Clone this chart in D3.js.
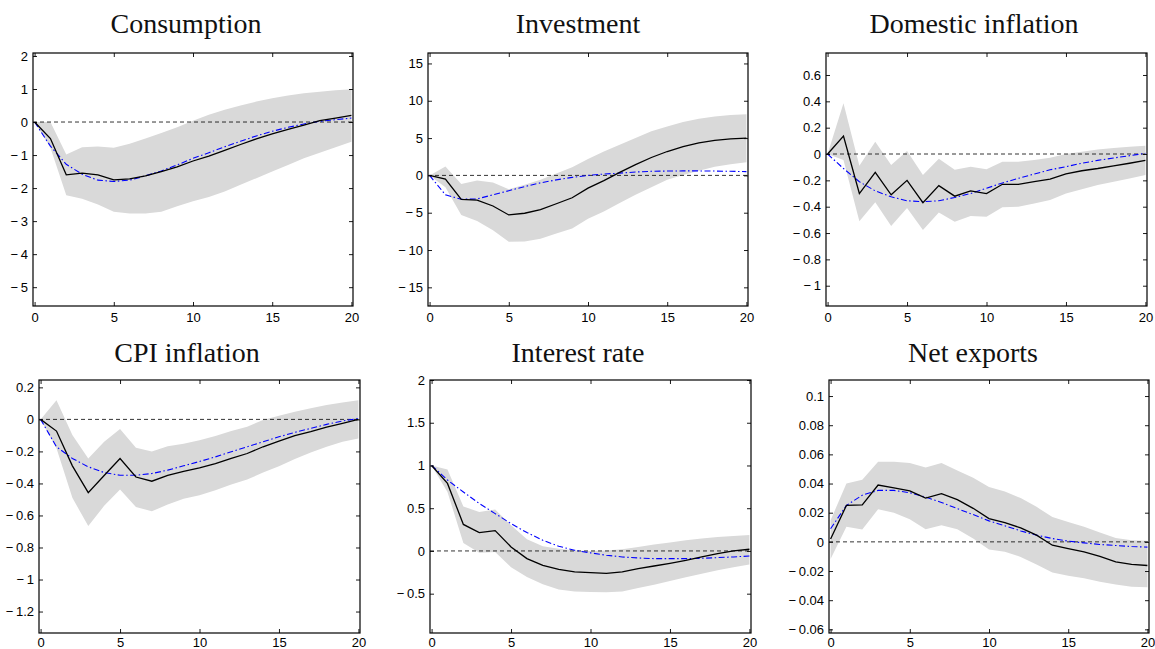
<!DOCTYPE html>
<html>
<head>
<meta charset="utf-8">
<script src="https://cdn.jsdelivr.net/npm/d3@7"></script>
<style>
  body { margin: 0; background: #fff; }
  svg { display: block; }
</style>
</head>
<body>
<script>
// horizon (quarters)
const periods = [0,1,2,3,4,5,6,7,8,9,10,11,12,13,14,15,16,17,18,19,20];

// Consumption
const consMed   = [0,-0.5,-1.6,-1.55,-1.6,-1.75,-1.72,-1.63,-1.5,-1.36,-1.18,-1.03,-0.86,-0.68,-0.51,-0.36,-0.22,-0.09,0.04,0.12,0.2];
const consModel = [0,-0.73,-1.28,-1.58,-1.76,-1.8,-1.76,-1.63,-1.48,-1.3,-1.1,-0.93,-0.75,-0.58,-0.42,-0.28,-0.16,-0.06,0.02,0.07,0.12];
const consLo    = [0,-0.78,-2.22,-2.32,-2.5,-2.72,-2.77,-2.77,-2.72,-2.55,-2.4,-2.27,-2.1,-1.9,-1.7,-1.5,-1.3,-1.1,-0.93,-0.76,-0.6];
const consHi    = [0,0,-0.98,-0.76,-0.74,-0.78,-0.66,-0.5,-0.33,-0.16,0.04,0.22,0.37,0.5,0.62,0.72,0.8,0.87,0.92,0.96,0.99];

// Investment
const invMed   = [0,-0.5,-3.2,-3.3,-4.1,-5.3,-5.07,-4.6,-3.8,-3.0,-1.7,-0.7,0.4,1.45,2.4,3.2,3.85,4.35,4.7,4.9,5.0];
const invModel = [0,-2.6,-3.2,-3.15,-2.6,-2.05,-1.5,-1.0,-0.6,-0.27,0,0.18,0.3,0.45,0.55,0.58,0.6,0.6,0.58,0.55,0.5];
const invLo    = [0,-1.6,-5.3,-6.1,-7.35,-8.9,-8.85,-8.5,-7.8,-7.1,-5.8,-4.85,-3.7,-2.6,-1.6,-0.6,0.05,0.63,1.15,1.5,1.75];
const invHi    = [0,1.2,-1.15,-0.7,-0.95,-1.85,-1.25,-0.6,0.27,1.1,2.2,3.2,4.1,5.0,5.9,6.55,7.15,7.6,7.9,8.1,8.2];

// Domestic inflation
const dinfMed   = [0,0.137,-0.3,-0.14,-0.31,-0.2,-0.37,-0.24,-0.32,-0.28,-0.3,-0.23,-0.23,-0.21,-0.19,-0.15,-0.127,-0.11,-0.09,-0.07,-0.048];
const dinfModel = [0,-0.11,-0.21,-0.28,-0.325,-0.355,-0.362,-0.355,-0.33,-0.3,-0.26,-0.22,-0.185,-0.152,-0.12,-0.096,-0.07,-0.048,-0.03,-0.013,0.005];
const dinfLo    = [0,-0.045,-0.51,-0.367,-0.547,-0.41,-0.577,-0.445,-0.514,-0.47,-0.476,-0.405,-0.4,-0.375,-0.35,-0.3,-0.268,-0.235,-0.21,-0.185,-0.16];
const dinfHi    = [0,0.385,-0.09,0.094,-0.083,0.023,-0.16,-0.035,-0.12,-0.096,-0.116,-0.058,-0.058,-0.045,-0.028,0,0.018,0.035,0.045,0.056,0.063];

// CPI inflation
const cpiMed   = [0,-0.073,-0.29,-0.457,-0.35,-0.244,-0.36,-0.386,-0.35,-0.324,-0.303,-0.276,-0.244,-0.213,-0.171,-0.136,-0.102,-0.077,-0.048,-0.025,0];
const cpiModel = [0,-0.171,-0.244,-0.296,-0.332,-0.349,-0.349,-0.338,-0.317,-0.29,-0.263,-0.234,-0.202,-0.171,-0.14,-0.109,-0.081,-0.056,-0.031,-0.01,0.006];
const cpiLo    = [0,-0.18,-0.49,-0.666,-0.54,-0.438,-0.547,-0.574,-0.532,-0.495,-0.474,-0.443,-0.407,-0.376,-0.332,-0.292,-0.248,-0.207,-0.171,-0.14,-0.119];
const cpiHi    = [0,0.12,-0.098,-0.244,-0.14,-0.06,-0.177,-0.2,-0.167,-0.152,-0.13,-0.104,-0.073,-0.046,-0.004,0.023,0.048,0.069,0.09,0.106,0.12];

// Interest rate
const rateMed   = [1,0.79,0.31,0.215,0.238,0.047,-0.09,-0.168,-0.215,-0.246,-0.254,-0.262,-0.246,-0.207,-0.176,-0.145,-0.11,-0.07,-0.031,0,0.02];
const rateModel = [1,0.83,0.69,0.555,0.437,0.32,0.215,0.125,0.055,0.008,-0.023,-0.05,-0.07,-0.082,-0.09,-0.09,-0.09,-0.086,-0.078,-0.07,-0.059];
const rateLo    = [1,0.69,0.094,-0.02,-0.012,-0.19,-0.305,-0.39,-0.45,-0.473,-0.48,-0.484,-0.473,-0.434,-0.395,-0.352,-0.309,-0.266,-0.227,-0.191,-0.16];
const rateHi    = [1,0.953,0.52,0.457,0.484,0.3,0.137,0.055,0.027,0.004,0,0.004,0.02,0.047,0.074,0.098,0.125,0.145,0.164,0.176,0.188];

// Net exports
const nxMed   = [0.002,0.025,0.0253,0.039,0.037,0.035,0.03,0.033,0.029,0.023,0.016,0.0132,0.0096,0.0046,-0.0023,-0.0046,-0.0068,-0.01,-0.0137,-0.0155,-0.0162];
const nxModel = [0.009,0.025,0.032,0.0353,0.0353,0.0337,0.0307,0.027,0.0228,0.0187,0.0144,0.011,0.0075,0.0046,0.0023,0.0005,-0.0007,-0.0018,-0.0025,-0.0032,-0.0036];
const nxLo    = [-0.0118,0.0103,0.0084,0.0223,0.02,0.0155,0.0087,0.0114,0.0087,0.0023,-0.0052,-0.0068,-0.0103,-0.0155,-0.021,-0.0232,-0.025,-0.0273,-0.0292,-0.0307,-0.0312];
const nxHi    = [0.0148,0.04,0.0426,0.055,0.055,0.054,0.051,0.054,0.049,0.044,0.0376,0.0346,0.03,0.024,0.017,0.0137,0.0103,0.0064,0.0027,0.0011,0.0007];

// titles and tick labels
const titles = ["Consumption", "Investment", "Domestic inflation", "CPI inflation", "Interest rate", "Net exports"];
const xTicks = [0, 5, 10, 15, 20];
const consTicks = [2, 1, 0, -1, -2, -3, -4, -5];
const invTicks  = [15, 10, 5, 0, -5, -10, -15];
const dinfTicks = [0.6, 0.4, 0.2, 0, -0.2, -0.4, -0.6, -0.8, -1];
const cpiTicks  = [0.2, 0, -0.2, -0.4, -0.6, -0.8, -1, -1.2];
const rateTicks = [2, 1.5, 1, 0.5, 0, -0.5];
const nxTicks   = [0.1, 0.08, 0.06, 0.04, 0.02, 0, -0.02, -0.04, -0.06];

// axes limits
const consLim = [-5.57, 2.09];
const invLim  = [-17.5, 16.4];
const dinfLim = [-1.154, 0.767];
const cpiLim  = [-1.334, 0.246];
const rateLim = [-0.96, 2.0];
const nxLim   = [-0.0625, 0.111];

const W = 1155, H = 649;
const fillGray = "#d9d9d9";
const blue = "#0000ff";

const panels = [
    {title: titles[0], med: consMed, model: consModel, lo: consLo, hi: consHi, ticks: consTicks, lim: consLim, box: [33, 353, 53, 306], tx: 186, ty: 33, xpad: 7},
    {title: titles[1], med: invMed,  model: invModel,  lo: invLo,  hi: invHi,  ticks: invTicks,  lim: invLim,  box: [428, 748, 53, 306], tx: 578, ty: 33, xpad: 7},
    {title: titles[2], med: dinfMed, model: dinfModel, lo: dinfLo, hi: dinfHi, ticks: dinfTicks, lim: dinfLim, box: [826, 1147, 53, 306], tx: 974, ty: 33, xpad: 7},
    {title: titles[3], med: cpiMed,  model: cpiModel,  lo: cpiLo,  hi: cpiHi,  ticks: cpiTicks,  lim: cpiLim,  box: [39, 360, 380, 633], tx: 187, ty: 362, xpad: 5},
    {title: titles[4], med: rateMed, model: rateModel, lo: rateLo, hi: rateHi, ticks: rateTicks, lim: rateLim, box: [430, 751, 380, 633], tx: 578, ty: 362, xpad: 5},
    {title: titles[5], med: nxMed,   model: nxModel,   lo: nxLo,   hi: nxHi,   ticks: nxTicks,   lim: nxLim,   box: [829, 1149, 380, 633], tx: 973, ty: 362, xpad: 5}
];

const svg = d3.select("body").append("svg")
    .attr("width", W)
    .attr("height", H)
    .style("font-family", "'Liberation Sans', Arial, sans-serif");

// MATLAB風のマイナス記号（少し広め）
const fmtBase = d3.format("~g");
const fmt = v => v < 0 ? "\u2212\u2009" + fmtBase(-v) : fmtBase(v);

panels.forEach((p, i) => {
    const [x0, x1, y0, y1] = p.box;

    const xScale = d3.scaleLinear().domain([-0.1, 20.1]).range([x0, x1]);
    const yScale = d3.scaleLinear().domain(p.lim).range([y1, y0]);

    const g = svg.append("g").attr("class", "panel-" + i);

    // 信頼区間の帯
    const area = d3.area()
        .x((d, j) => xScale(periods[j]))
        .y0((d, j) => yScale(p.lo[j]))
        .y1((d, j) => yScale(p.hi[j]));
    g.append("path")
        .datum(p.lo)
        .attr("fill", fillGray)
        .attr("stroke", "none")
        .attr("d", area);

    // ゼロ線
    g.append("line")
        .attr("x1", x0).attr("x2", x1)
        .attr("y1", yScale(0)).attr("y2", yScale(0))
        .attr("stroke", "#000")
        .attr("stroke-width", 0.8)
        .attr("stroke-dasharray", "4,3");

    // モデルの応答（青の一点鎖線）
    const line = arr => d3.line()
        .x((d, j) => xScale(periods[j]))
        .y(d => yScale(d))(arr);
    g.append("path")
        .attr("d", line(p.model))
        .attr("fill", "none")
        .attr("stroke", blue)
        .attr("stroke-width", 1.1)
        .attr("stroke-dasharray", "6,2.5,1.5,2.5");

    // 推定値（黒の実線）
    g.append("path")
        .attr("d", line(p.med))
        .attr("fill", "none")
        .attr("stroke", "#000")
        .attr("stroke-width", 1.3);

    // 軸（目盛りは内向き、四辺とも）
    const tickLen = 4;
    const axisLeft = d3.axisLeft(yScale).tickValues(p.ticks).tickSize(-tickLen).tickPadding(5).tickFormat(fmt);
    const axisRight = d3.axisRight(yScale).tickValues(p.ticks).tickSize(-tickLen).tickFormat("");
    const axisBottom = d3.axisBottom(xScale).tickValues(xTicks).tickSize(-tickLen).tickPadding(p.xpad).tickFormat(d3.format("d"));
    const axisTop = d3.axisTop(xScale).tickValues(xTicks).tickSize(-tickLen).tickFormat("");

    const styleAxis = sel => {
        sel.select(".domain").remove();
        sel.selectAll(".tick line").attr("stroke", "#000").attr("stroke-width", 0.9);
        sel.selectAll("text").attr("fill", "#000").style("font-size", "13px")
            .style("font-family", "'Liberation Sans', Arial, sans-serif");
    };

    g.append("g").attr("transform", `translate(${x0},0)`).call(axisLeft).call(styleAxis);
    g.append("g").attr("transform", `translate(${x1},0)`).call(axisRight).call(styleAxis);
    g.append("g").attr("transform", `translate(0,${y1})`).call(axisBottom).call(styleAxis);
    g.append("g").attr("transform", `translate(0,${y0})`).call(axisTop).call(styleAxis);

    // 枠
    g.append("rect")
        .attr("x", x0).attr("y", y0)
        .attr("width", x1 - x0).attr("height", y1 - y0)
        .attr("fill", "none")
        .attr("stroke", "#000")
        .attr("stroke-width", 1.2);

    // タイトル
    svg.append("text")
        .attr("x", p.tx)
        .attr("y", p.ty)
        .attr("text-anchor", "middle")
        .style("font-family", "'Liberation Serif', 'Times New Roman', serif")
        .style("font-size", "28px")
        .attr("fill", "#111")
        .text(p.title);
});
</script>
</body>
</html>
